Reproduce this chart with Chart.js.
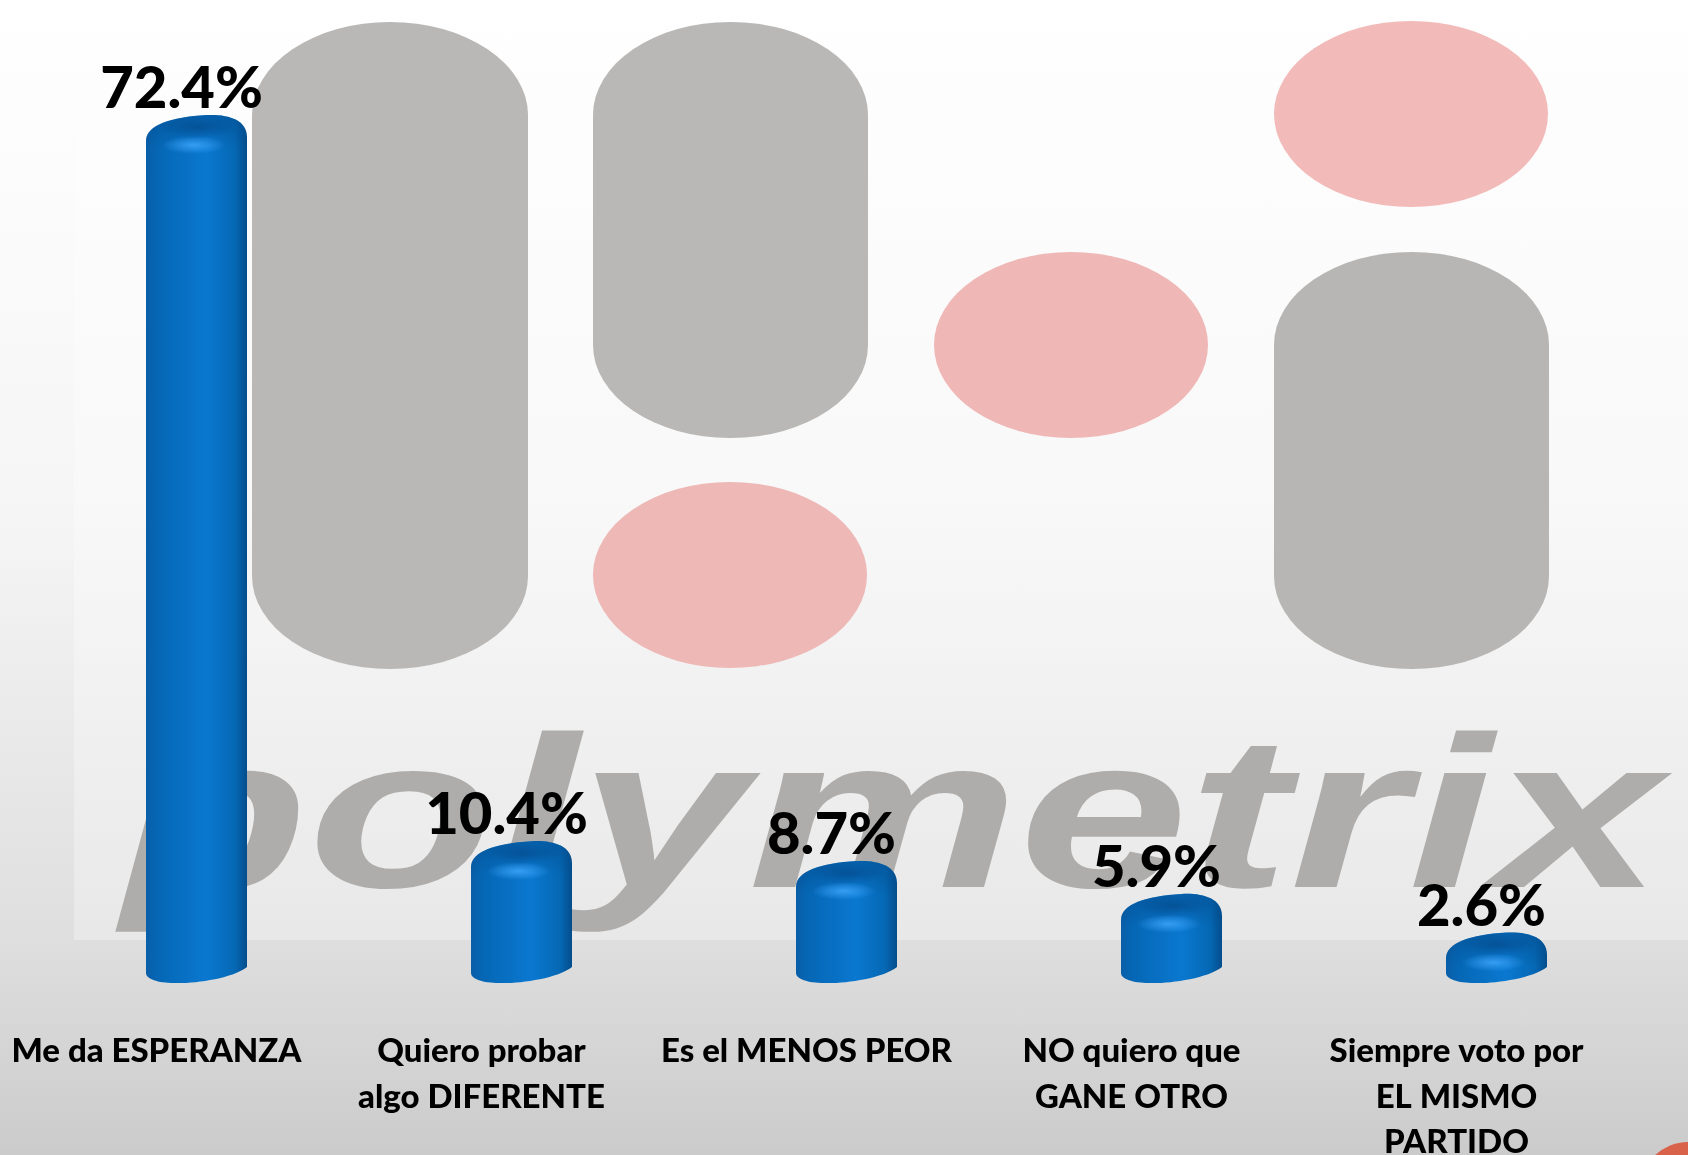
<!DOCTYPE html>
<html>
<head>
<meta charset="utf-8">
<title>Polymetrix</title>
<style>
  html, body { margin: 0; padding: 0; width: 1688px; height: 1155px; overflow: hidden; }
  body { background: linear-gradient(180deg, #ffffff 0%, #f5f5f5 45%, #dedede 82%, #cbcbcb 100%); position: relative; }
  #marca { position: absolute; left: 0; top: 0; }
  #wrap { position: absolute; left: 0; top: 0; width: 1688px; height: 1155px; }
</style>
</head>
<body>
<svg id="marca" width="1688" height="1155" viewBox="0 0 1688 1155">
  <defs>
    <clipPath id="panel"><rect x="74" y="0" width="1614" height="940"/></clipPath>
  </defs>
  <rect x="74" y="0" width="1614" height="940" fill="#ffffff" opacity="0.3"/>
  <rect x="252" y="22" width="276" height="647" rx="138" ry="93" fill="#b9b8b6"/>
  <rect x="593" y="22" width="275" height="416" rx="137" ry="93" fill="#b9b8b6"/>
  <rect x="1274" y="252" width="275" height="417" rx="137" ry="93" fill="#b7b6b4"/>
  <ellipse cx="730" cy="575" rx="137" ry="93" fill="#edb8b5"/>
  <ellipse cx="1071" cy="345" rx="137" ry="93" fill="#efb8b6"/>
  <ellipse cx="1411" cy="114" rx="137" ry="93" fill="#f2bbb9"/>
  <g clip-path="url(#panel)">
    <text x="122" y="887" font-family="Liberation Sans" font-style="italic" font-weight="700" font-size="216" fill="#aeadab" textLength="1540" lengthAdjust="spacingAndGlyphs">polymetrix</text>
  </g>
  <circle cx="1688" cy="1190" r="48" fill="#d9634a"/>
</svg>
<div id="wrap"><canvas id="grafica"></canvas></div>
<script src="https://cdn.jsdelivr.net/npm/chart.js@4"></script>
<script>
const categorias = [
  'Me da ESPERANZA',
  ['Quiero probar', 'algo DIFERENTE'],
  'Es el MENOS PEOR',
  ['NO quiero que', 'GANE OTRO'],
  ['Siempre voto por', 'EL MISMO', 'PARTIDO']
];
const valores = [72.4, 10.4, 8.7, 5.9, 2.6];

// cilindros con la tapa inclinada, como en la lamina original
const cilindros = {
  id: 'cilindros',
  beforeDatasetDraw(chart) {
    const ctx = chart.ctx;
    chart.getDatasetMeta(0).data.forEach((bar) => {
      const w = bar.width, l = bar.x - w / 2, r = bar.x + w / 2;
      const top = bar.y, bot = bar.base + 20;
      const h = bot - top;

      ctx.save();
      ctx.beginPath();
      ctx.moveTo(l, top + 26);
      ctx.bezierCurveTo(l, top + 10, l + 25, top + 2, bar.x + 10, top);
      ctx.bezierCurveTo(r - 20, top - 1, r, top + 4, r, top + 22);
      ctx.lineTo(r, bot - 16);
      ctx.bezierCurveTo(r - 15, bot - 4, bar.x - 5, bot + 1, l + 28, bot);
      ctx.bezierCurveTo(l + 12, bot, l, bot - 4, l, bot - 10);
      ctx.closePath();
      ctx.clip();

      const g = ctx.createLinearGradient(l, 0, r, 0);
      g.addColorStop(0, '#0a5ea8');
      g.addColorStop(0.12, '#0567b5');
      g.addColorStop(0.6, '#0a78d0');
      g.addColorStop(0.88, '#0568b4');
      g.addColorStop(1, '#044d8c');
      ctx.fillStyle = g;
      ctx.fillRect(l - 1, top - 6, w + 2, h + 12);

      // sombra de la tapa
      const s = ctx.createLinearGradient(0, top, 0, top + 34);
      s.addColorStop(0, 'rgba(3,75,140,0.55)');
      s.addColorStop(1, 'rgba(3,75,140,0)');
      ctx.fillStyle = s;
      ctx.fillRect(l - 1, top - 2, w + 2, 36);

      // hundido oscuro de la tapa
      ctx.save();
      ctx.translate(bar.x + 2, top + 12);
      ctx.scale(1, 0.3);
      const c = ctx.createRadialGradient(0, 0, 4, 0, 0, 38);
      c.addColorStop(0, 'rgba(2,72,135,0.6)');
      c.addColorStop(1, 'rgba(2,72,135,0)');
      ctx.fillStyle = c;
      ctx.fillRect(-50, -40, 100, 80);
      ctx.restore();

      // brillo
      ctx.save();
      ctx.translate(bar.x - 3, top + 30);
      ctx.scale(1, 0.28);
      const b = ctx.createRadialGradient(0, 0, 1, 0, 0, 32);
      b.addColorStop(0, 'rgba(60,165,250,0.85)');
      b.addColorStop(1, 'rgba(60,165,250,0)');
      ctx.fillStyle = b;
      ctx.fillRect(-50, -40, 100, 80);
      ctx.restore();
      ctx.restore();
    });
    return false;
  },
  afterDatasetsDraw(chart) {
    const ctx = chart.ctx;
    ctx.save();
    ctx.font = '900 58px Lato';
    ctx.fillStyle = '#000';
    ctx.textAlign = 'center';
    ctx.textBaseline = 'alphabetic';
    chart.getDatasetMeta(0).data.forEach((bar, i) => {
      ctx.fillText(valores[i].toFixed(1) + '%', bar.x - 15, bar.y - 7);
    });
    ctx.restore();
  }
};

new Chart(document.getElementById('grafica'), {
  type: 'bar',
  data: {
    labels: categorias,
    datasets: [{ data: valores, backgroundColor: '#0a6fc2', barThickness: 101 }]
  },
  plugins: [cilindros],
  options: {
    responsive: true,
    maintainAspectRatio: false,
    animation: false,
    layout: { autoPadding: false, padding: { left: 34, right: 29, top: 26, bottom: 0 } },
    plugins: { legend: { display: false }, tooltip: { enabled: false } },
    scales: {
      x: {
        grid: { display: false },
        border: { display: false },
        afterFit(scale) {
          scale.height = 192;
          scale.paddingLeft = 0;
          scale.paddingRight = 0;
        },
        ticks: {
          color: '#000',
          labelOffset: -40,
          maxRotation: 0,
          autoSkip: false,
          padding: 58,
          font: { family: 'Lato', weight: '900', size: 33, lineHeight: 1.38 }
        }
      },
      y: { display: false, min: 0, max: 80 }
    }
  }
});
</script>
</body>
</html>
